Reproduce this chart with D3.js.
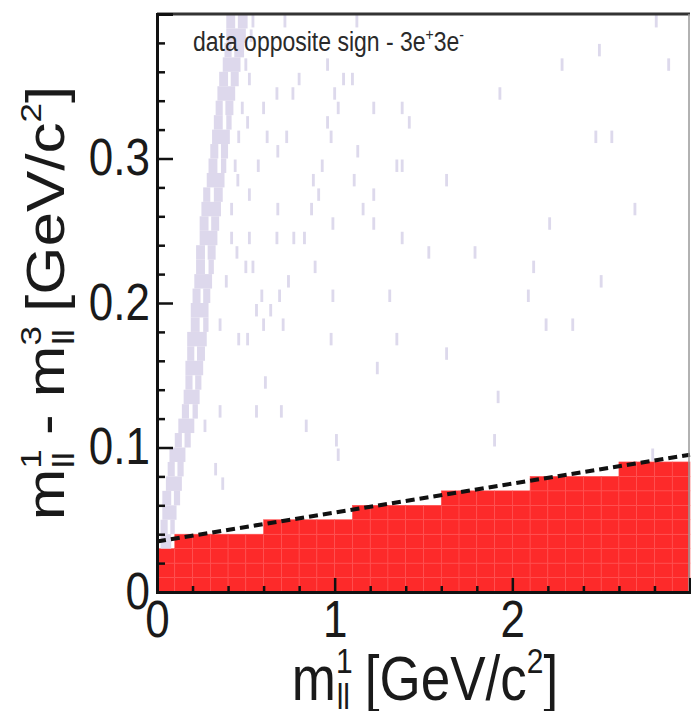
<!DOCTYPE html>
<html>
<head>
<meta charset="utf-8">
<script src="https://cdn.jsdelivr.net/npm/d3@7"></script>
<style>
  body { margin: 0; background: #fff; }
  svg text { font-family: "Liberation Sans", Arial, sans-serif; }
</style>
</head>
<body>
<svg id="chart" width="691" height="711"></svg>
<script>
// red accepted region: step edges in m_ll^1 and the height of each step
const stepEdges = [0, 0.1, 0.6, 1.1, 1.6, 2.1, 2.6, 3.0];
const stepTops  = [0.03, 0.04, 0.05, 0.06, 0.07, 0.08, 0.09];

// dashed cut line (two end points)
const cutX = [0, 3.0];
const cutY = [0.035, 0.095];

// dense band of entries: [y bin low edge, x start, x end]
const bandRows = [
  [0.39, 0.39, 0.44], [0.39, 0.455, 0.51], [0.38, 0.39, 0.50], [0.37, 0.38, 0.42],
  [0.37, 0.435, 0.49], [0.36, 0.37, 0.47], [0.35, 0.35, 0.40], [0.35, 0.415, 0.46],
  [0.34, 0.34, 0.44], [0.33, 0.33, 0.37], [0.33, 0.385, 0.43], [0.32, 0.32, 0.37],
  [0.32, 0.39, 0.42], [0.31, 0.31, 0.41], [0.30, 0.30, 0.345], [0.30, 0.36, 0.40],
  [0.29, 0.29, 0.34], [0.29, 0.36, 0.39], [0.28, 0.28, 0.38], [0.27, 0.26, 0.30],
  [0.27, 0.32, 0.37], [0.26, 0.25, 0.36], [0.25, 0.24, 0.29], [0.25, 0.305, 0.35],
  [0.24, 0.24, 0.34], [0.23, 0.22, 0.27], [0.23, 0.285, 0.33], [0.22, 0.22, 0.27],
  [0.22, 0.29, 0.32], [0.21, 0.21, 0.31], [0.20, 0.20, 0.245], [0.20, 0.26, 0.30],
  [0.19, 0.19, 0.29], [0.18, 0.19, 0.24], [0.18, 0.26, 0.29], [0.17, 0.17, 0.28],
  [0.16, 0.17, 0.21], [0.16, 0.225, 0.27], [0.15, 0.16, 0.26], [0.14, 0.16, 0.20],
  [0.14, 0.215, 0.25], [0.13, 0.15, 0.24], [0.12, 0.14, 0.18], [0.12, 0.20, 0.23],
  [0.11, 0.12, 0.21], [0.10, 0.10, 0.14], [0.10, 0.155, 0.19], [0.09, 0.07, 0.16],
  [0.08, 0.06, 0.10], [0.08, 0.115, 0.15], [0.07, 0.05, 0.14], [0.06, 0.03, 0.08],
  [0.06, 0.095, 0.13], [0.05, 0.03, 0.11], [0.04, 0.02, 0.06], [0.04, 0.075, 0.10],
  [0.03, 0.02, 0.08]
];

// isolated entries: [x centre, y bin low edge]
const scatterCells = [
  [2.81, 0.39], [2.49, 0.37], [2.28, 0.36], [2.88, 0.36], [1.93, 0.34], [2.47, 0.31],
  [2.56, 0.31], [2.69, 0.26], [2.21, 0.25], [2.12, 0.22], [2.50, 0.21], [2.09, 0.20],
  [2.19, 0.18], [2.34, 0.18], [1.92, 0.13], [1.90, 0.10], [2.79, 0.09],
  [1.125, 0.39], [0.96, 0.36], [1.05, 0.35], [1.10, 0.35], [0.80, 0.35], [1.00, 0.34],
  [1.02, 0.33], [1.22, 0.33], [1.38, 0.33], [1.42, 0.32], [0.96, 0.32], [0.98, 0.31],
  [1.13, 0.30], [0.93, 0.29], [1.35, 0.29], [1.38, 0.29], [0.88, 0.28], [1.11, 0.28],
  [1.63, 0.28], [0.91, 0.27], [1.22, 0.27], [0.87, 0.26], [1.16, 0.26], [0.99, 0.25],
  [1.22, 0.25], [0.83, 0.24], [1.38, 0.24], [1.53, 0.23], [1.79, 0.23],
  [0.89, 0.22], [0.99, 0.20], [1.31, 0.20], [0.98, 0.17], [1.35, 0.17], [1.63, 0.16],
  [1.24, 0.15], [0.84, 0.11], [1.01, 0.10], [1.02, 0.09],
  [0.54, 0.39], [0.72, 0.39], [0.52, 0.35], [0.675, 0.34], [0.765, 0.34], [0.60, 0.33],
  [0.51, 0.32], [0.62, 0.31], [0.73, 0.31], [0.68, 0.30], [0.57, 0.29], [0.455, 0.28],
  [0.52, 0.27], [0.68, 0.26], [0.42, 0.26],
  [0.42, 0.24], [0.52, 0.24], [0.675, 0.24], [0.77, 0.24], [0.45, 0.23], [0.50, 0.22],
  [0.54, 0.22], [0.39, 0.21], [0.74, 0.21], [0.59, 0.20], [0.69, 0.20], [0.64, 0.19],
  [0.56, 0.19], [0.355, 0.18], [0.60, 0.18], [0.71, 0.18], [0.46, 0.17], [0.51, 0.17],
  [0.61, 0.14], [0.355, 0.12], [0.56, 0.12], [0.70, 0.12], [0.33, 0.08], [0.37, 0.07],
  [0.53, 0.38], [0.50, 0.36], [0.48, 0.33], [0.46, 0.31], [0.44, 0.29], [0.27, 0.11]
];

const xMajor = [0, 1, 2];
const xMinor = [0.2, 0.4, 0.6, 0.8, 1.2, 1.4, 1.6, 1.8, 2.2, 2.4, 2.6, 2.8];
const yMajor = [0, 0.1, 0.2, 0.3];
const yMinor = [0.02, 0.04, 0.06, 0.08, 0.12, 0.14, 0.16, 0.18, 0.22, 0.24, 0.26, 0.28, 0.32, 0.34, 0.36, 0.38];

(function() {
    const svg = d3.select("#chart");
    const left = 157, right = 690, top = 14, bottom = 592;
    const yBin = 0.01, xBin = 0.016, redXBin = 0.1;
    const stretch = 1.17; // the original glyphs are taller than wide

    const x = d3.scaleLinear().domain([0, 3.0]).range([left, right]);
    const y = d3.scaleLinear().domain([0, 0.4]).range([bottom, top]);

    const plot = svg.append("g");

    // red histogram cells
    const redCells = [];
    stepTops.forEach((t, i) => {
        for (let cx = stepEdges[i]; cx < stepEdges[i + 1] - 1e-9; cx += redXBin) {
            const cx1 = Math.min(cx + redXBin, stepEdges[i + 1]);
            for (let cy = 0; cy < t - 1e-9; cy += yBin) {
                redCells.push({x0: cx, x1: cx1, y0: cy, y1: cy + yBin});
            }
        }
    });
    plot.append("g").selectAll("rect")
        .data(redCells)
        .enter().append("rect")
        .attr("x", d => x(d.x0))
        .attr("y", d => y(d.y1))
        .attr("width", d => x(d.x1) - x(d.x0))
        .attr("height", d => y(d.y0) - y(d.y1))
        .attr("fill", "#fd2a2a")
        .attr("stroke", "#ff5454")
        .attr("stroke-width", 0.6);

    // band
    plot.append("g").selectAll("rect")
        .data(bandRows)
        .enter().append("rect")
        .attr("x", d => x(d[1]))
        .attr("y", d => y(d[0] + yBin))
        .attr("width", d => x(d[2]) - x(d[1]))
        .attr("height", d => y(d[0]) - y(d[0] + yBin))
        .attr("fill", "#ddd8ec");

    // isolated cells
    plot.append("g").selectAll("rect")
        .data(scatterCells)
        .enter().append("rect")
        .attr("x", d => x(d[0] - xBin / 2))
        .attr("y", d => y(d[1] + yBin) + 1)
        .attr("width", d => x(xBin) - x(0))
        .attr("height", d => y(d[1]) - y(d[1] + yBin) - 2)
        .attr("fill", "#ddd9ec");

    // dashed cut
    plot.append("line")
        .attr("x1", x(cutX[0])).attr("y1", y(cutY[0]))
        .attr("x2", x(cutX[1])).attr("y2", y(cutY[1]))
        .attr("stroke", "#111")
        .attr("stroke-width", 4)
        .attr("stroke-dasharray", "9,5");

    // frame
    svg.append("line").attr("x1", left).attr("x2", right).attr("y1", top).attr("y2", top)
        .attr("stroke", "#333").attr("stroke-width", 3);
    svg.append("line").attr("x1", right - 1).attr("x2", right - 1).attr("y1", top).attr("y2", bottom)
        .attr("stroke", "#999").attr("stroke-width", 1.5);

    // axes
    svg.append("g").attr("transform", `translate(${left},0)`)
        .call(d3.axisLeft(y).tickValues(yMajor).tickSize(-16).tickPadding(7)
            .tickFormat(d => d === 0 ? "0" : d3.format(".1f")(d)));
    svg.append("g").attr("transform", `translate(${left},0)`)
        .call(d3.axisLeft(y).tickValues(yMinor).tickSize(-8).tickFormat(""))
        .call(g => g.select(".domain").remove());
    svg.append("g").attr("transform", `translate(0,${bottom})`)
        .call(d3.axisBottom(x).tickValues(xMajor).tickSize(-14).tickPadding(7)
            .tickFormat(d3.format("d")));
    svg.append("g").attr("transform", `translate(0,${bottom})`)
        .call(d3.axisBottom(x).tickValues(xMinor).tickSize(-6).tickFormat(""))
        .call(g => g.select(".domain").remove());

    svg.selectAll(".domain").attr("stroke", "#111").attr("stroke-width", 3);
    svg.selectAll(".tick line").attr("stroke", "#111").attr("stroke-width", 2.5);
    svg.selectAll(".tick text").attr("font-size", 44).attr("fill", "#1a1a1a")
        .attr("font-family", "'Liberation Sans', Arial, sans-serif")
        .attr("transform", `scale(1,${stretch})`);

    // annotation
    const ann = svg.append("text")
        .attr("transform", `translate(193,51) scale(1,${stretch})`)
        .attr("font-size", 23).attr("fill", "#2a2a2a");
    ann.append("tspan").text("data opposite sign - 3e");
    ann.append("tspan").attr("font-size", 14).attr("dy", -9).text("+");
    ann.append("tspan").attr("dy", 9).text("3e");
    ann.append("tspan").attr("font-size", 14).attr("dy", -9).text("-");

    // x title: m_ll^1 [GeV/c^2]
    const xt = svg.append("text")
        .attr("transform", `translate(425,700) scale(1,${stretch})`)
        .attr("text-anchor", "middle").attr("font-size", 53).attr("fill", "#1a1a1a");
    xt.append("tspan").text("m");
    xt.append("tspan").attr("font-size", 30).attr("dy", -23).text("1");
    xt.append("tspan").attr("font-size", 30).attr("dx", -16).attr("dy", 31).text("ll");
    xt.append("tspan").attr("dy", -8).text(" [GeV/c");
    xt.append("tspan").attr("font-size", 30).attr("dy", -23).text("2");
    xt.append("tspan").attr("dy", 23).text("]");

    // y title: m_ll^1 - m_ll^3 [GeV/c^2]
    const yt = svg.append("text")
        .attr("transform", `translate(64,303) scale(1,${stretch}) rotate(-90)`)
        .attr("text-anchor", "middle").attr("font-size", 53).attr("fill", "#1a1a1a");
    yt.append("tspan").text("m");
    yt.append("tspan").attr("font-size", 30).attr("dy", -23).text("1");
    yt.append("tspan").attr("font-size", 30).attr("dx", -16).attr("dy", 33).text("ll");
    yt.append("tspan").attr("dy", -10).text(" - m");
    yt.append("tspan").attr("font-size", 30).attr("dy", -23).text("3");
    yt.append("tspan").attr("font-size", 30).attr("dx", -16).attr("dy", 33).text("ll");
    yt.append("tspan").attr("dy", -10).text(" [GeV/c");
    yt.append("tspan").attr("font-size", 30).attr("dy", -23).text("2");
    yt.append("tspan").attr("dy", 23).text("]");
})();
</script>
</body>
</html>
